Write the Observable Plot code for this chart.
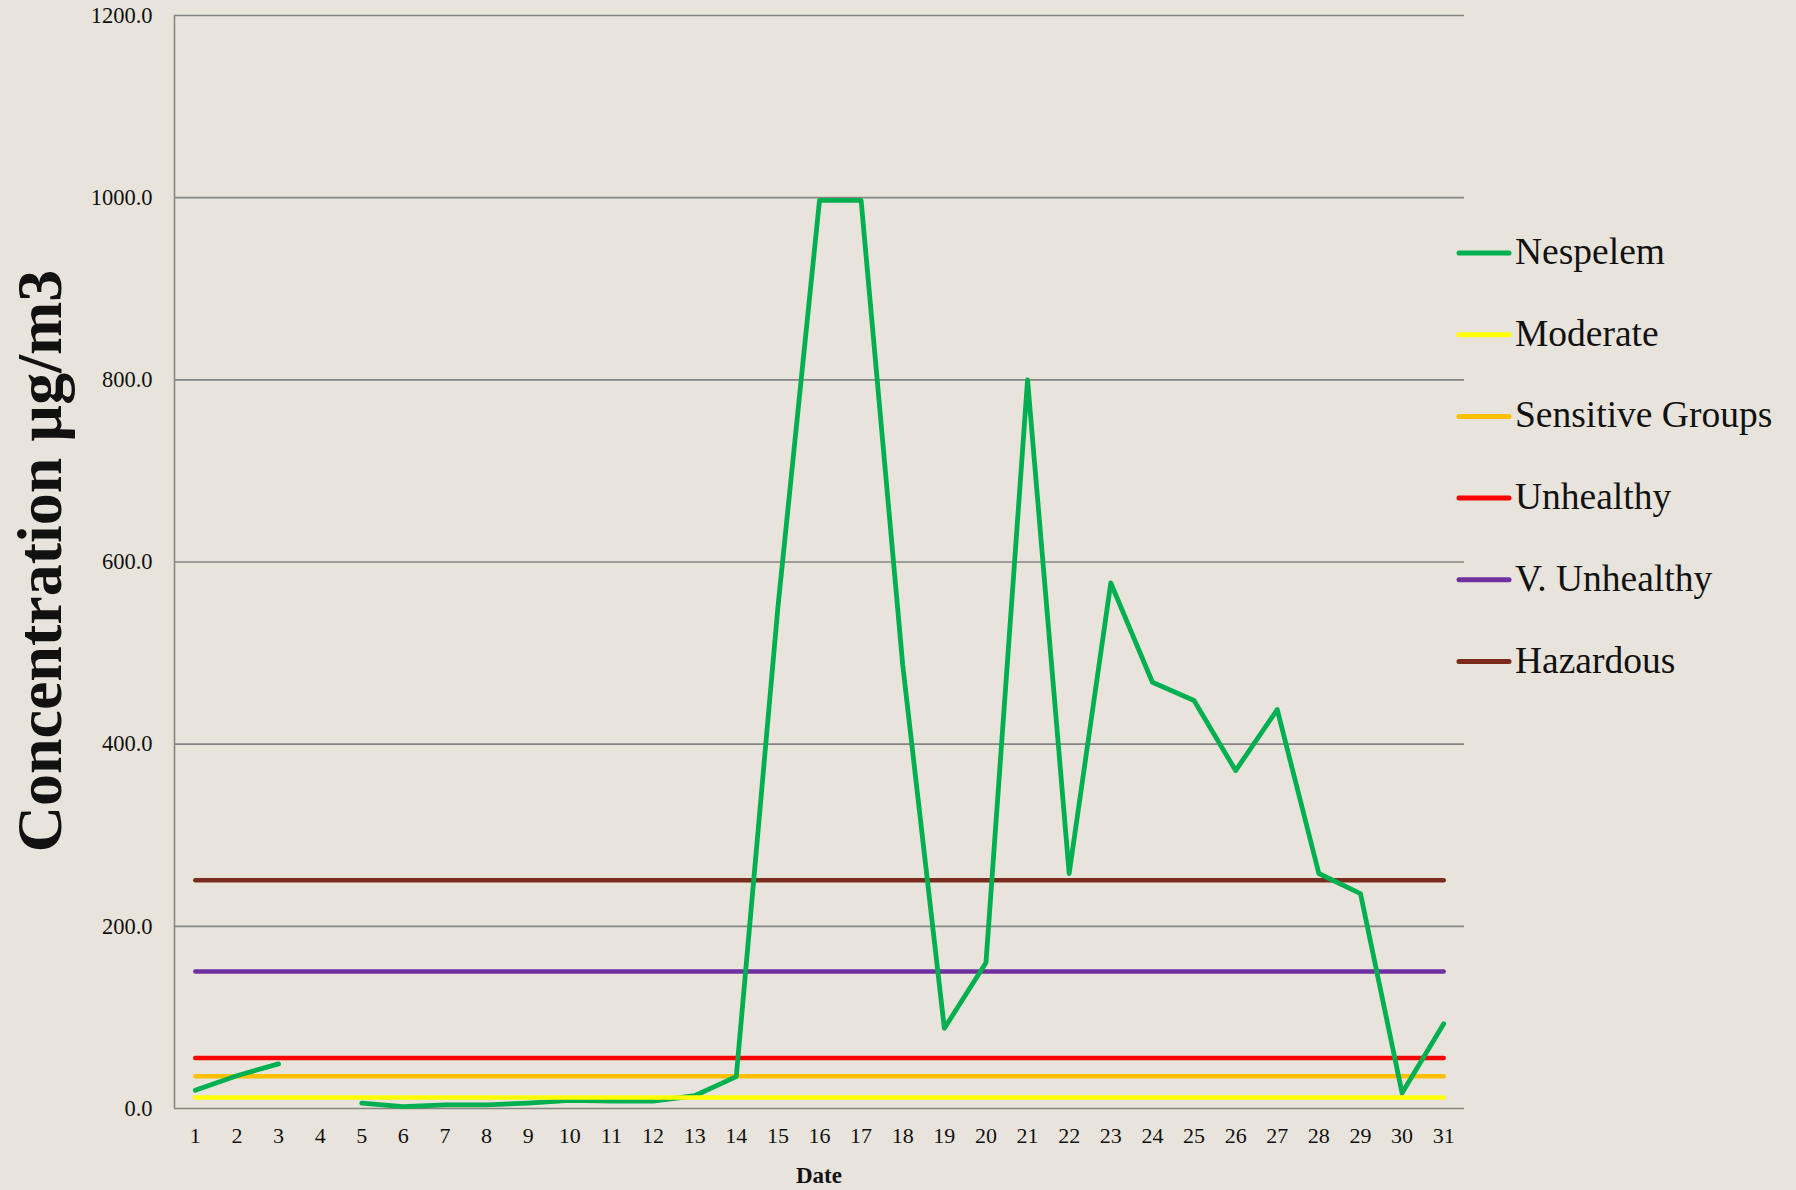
<!DOCTYPE html>
<html><head><meta charset="utf-8">
<script src="https://cdn.jsdelivr.net/npm/d3@7"></script>
<script src="https://cdn.jsdelivr.net/npm/@observablehq/plot@0.6"></script>
<style>
html,body{margin:0;padding:0;background:#E8E4DC;}
#wrap{position:relative;width:1796px;height:1190px;}
svg{font-family:"Liberation Serif","DejaVu Serif",serif;}
</style></head><body><div id="wrap"></div>
<script>
// ---- data ----
const days = [1,2,3,4,5,6,7,8,9,10,11,12,13,14,15,16,17,18,19,20,21,22,23,24,25,26,27,28,29,30,31];
const nespelem = [20,36,49,null,6,2,4,4,6,9,8,8,14,35,550,997,997,487,88,160,800,258,577,468,448,371,438,258,236,17,93];
const thresholdNames = ["Moderate","Sensitive Groups","Unhealthy","V. Unhealthy","Hazardous"];
const thresholdValues = [12,35.5,55.5,150.5,250.5];
const seriesNames = ["Nespelem", ...thresholdNames];
const seriesColors = ["#00B050","#FFFF00","#FFC000","#FF0000","#7030A0","#7B2A1E"];
const yTicks = [0,200,400,600,800,1000,1200];

// ---- tables ----
const nespelemRows = days.map((d,i)=>({day:d, value:nespelem[i]}));
const thresholdRows = thresholdNames.flatMap((n,i)=>days.map(d=>({series:n, day:d, value:thresholdValues[i]})));
const colorOf = Object.fromEntries(seriesNames.map((n,i)=>[n,seriesColors[i]]));

const W = 1796, H = 1190;
const svg = Plot.plot({
  width: W, height: H,
  marginLeft: 174, marginRight: 332, marginTop: 15, marginBottom: 82,
  style: {background: "#E8E4DC", fontFamily: '"Liberation Serif","DejaVu Serif",serif'},
  x: {type: "linear", domain: [0.5, 31.5]},
  y: {domain: [0, 1200]},
  color: {domain: seriesNames, range: seriesColors},
  marks: [
    Plot.gridY(yTicks, {stroke: "#858585", strokeOpacity: 1, strokeWidth: 1.6}),
    Plot.ruleX([0.5], {stroke: "#858585", strokeWidth: 1.6}),
    Plot.axisY(yTicks, {tickSize: 0, tickPadding: 22, tickFormat: d => d.toFixed(1), fontSize: 22.5, fill: "#111", label: null}),
    Plot.axisX(days, {tickSize: 0, tickPadding: 19, tickFormat: d => String(d), fontSize: 22, fill: "#111", label: null}),
    Plot.line(thresholdRows.filter(r => r.series !== "Moderate"), {x: "day", y: "value", z: "series", stroke: "series", strokeWidth: 4.5, strokeLinecap: "round"}),
    Plot.line(nespelemRows, {x: "day", y: "value", stroke: () => "Nespelem", strokeWidth: 4.8, strokeLinecap: "round", strokeLinejoin: "round"}),
    Plot.line(thresholdRows.filter(r => r.series === "Moderate"), {x: "day", y: "value", z: "series", stroke: "series", strokeWidth: 4.5, strokeLinecap: "round"})
  ]
});
document.getElementById("wrap").appendChild(svg);

const s = d3.select(svg);
// y axis title
s.append("text")
  .attr("transform", "translate(61,561) rotate(-90)")
  .attr("text-anchor", "middle")
  .attr("font-size", 64).attr("font-weight", "bold").attr("fill", "#111")
  .text("Concentration µg/m3");
// x axis title
s.append("text")
  .attr("x", 819).attr("y", 1183)
  .attr("text-anchor", "middle")
  .attr("font-size", 23).attr("font-weight", "bold").attr("fill", "#111")
  .text("Date");
// legend
const lg = s.append("g").attr("text-anchor", "start");
seriesNames.forEach((n, i) => {
  const y = 253 + i * 81.7;
  lg.append("line").attr("x1", 1459).attr("x2", 1509).attr("y1", y).attr("y2", y)
    .attr("stroke", colorOf[n]).attr("stroke-width", 5).attr("stroke-linecap", "round");
  lg.append("text").attr("x", 1515).attr("y", y + 11).attr("text-anchor", "start")
    .attr("font-size", 37.5).attr("fill", "#111").text(n);
});
</script>
</body></html>
